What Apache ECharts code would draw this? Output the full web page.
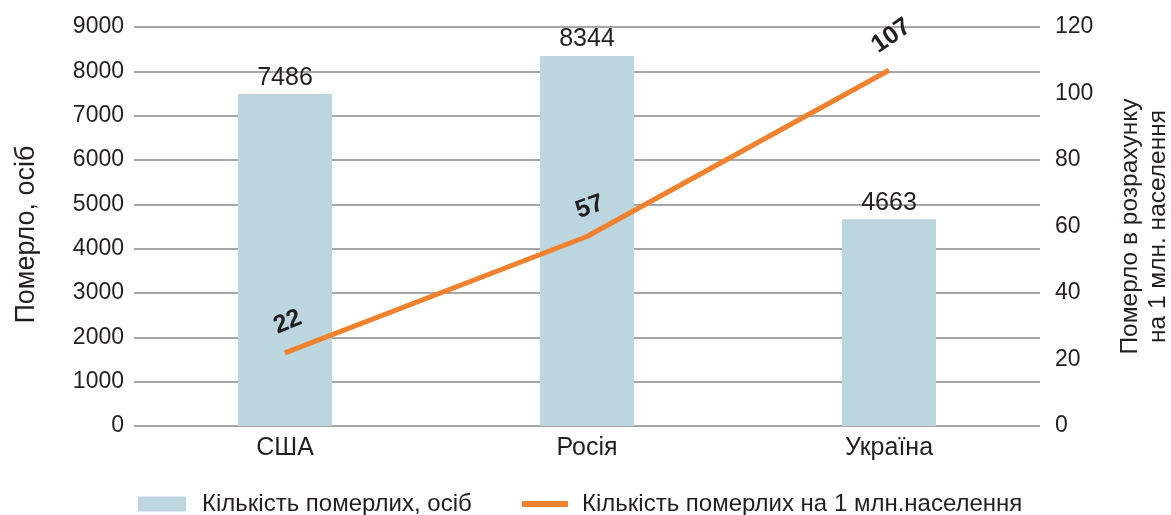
<!DOCTYPE html>
<html><head><meta charset="utf-8">
<script src="https://cdn.jsdelivr.net/npm/echarts@6/dist/echarts.min.js"></script>
<style>html,body{margin:0;padding:0;background:#fff}#c{width:1171px;height:515px}</style>
</head><body><div id="c"></div>
<script>
const categories = ['США', 'Росія', 'Україна'];
const deaths = [7486, 8344, 4663];
const deathsPerMillion = [22, 57, 107];
const seriesNames = ['Кількість померлих, осіб', 'Кількість померлих на 1 млн.населення'];
const leftAxisName = 'Померло, осіб';
const rightAxisName = 'Померло в розрахунку\nна 1 млн. населення';

// label styling (not data)
const lineLabelRotate = [22, 20, 35];
const lineLabelDistance = [29, 28, 32];

const font = 'Liberation Sans, Arial, sans-serif';
const txt = '#231f20';
const chart = echarts.init(document.getElementById('c'));
chart.setOption({
  animation: false,
  textStyle: { fontFamily: font },
  grid: { left: 134, right: 131, top: 27, bottom: 89, outerBoundsMode: 'none', containLabel: false },
  legend: [
    {
      top: 487, left: 133, itemWidth: 48, itemHeight: 15,
      textStyle: { fontSize: 24, color: txt, fontFamily: font, padding: [0, 0, 0, 11] },
      data: [{ name: seriesNames[0], icon: 'rect' }]
    },
    {
      top: 487, left: 517, itemWidth: 46, itemHeight: 6,
      textStyle: { fontSize: 24, color: txt, fontFamily: font, padding: [0, 0, 0, 9] },
      data: [{ name: seriesNames[1], icon: 'rect', itemStyle: { color: '#f0812f', opacity: 1 } }]
    }
  ],
  xAxis: {
    type: 'category', data: categories,
    axisLine: { show: false }, axisTick: { show: false },
    axisLabel: { fontSize: 25, color: txt, margin: 10 }
  },
  yAxis: [
    {
      type: 'value', min: 0, max: 9000, interval: 1000,
      name: leftAxisName, nameLocation: 'middle', nameGap: 94,
      nameTextStyle: { fontSize: 27, color: txt, padding: [0, 16, 0, 0] },
      axisLabel: { fontSize: 23, color: txt, margin: 10, formatter: v => String(v) },
      splitLine: { lineStyle: { color: '#a6a6a6', width: 2 } },
      axisLine: { show: false }, axisTick: { show: false }
    },
    {
      type: 'value', min: 0, max: 120, interval: 20,
      name: rightAxisName, nameLocation: 'middle', nameGap: 76,
      nameTextStyle: { fontSize: 24.5, color: txt, lineHeight: 28 },
      axisLabel: { fontSize: 23, color: txt, margin: 15, formatter: v => String(v) },
      splitLine: { show: false }, axisLine: { show: false }, axisTick: { show: false }
    }
  ],
  series: [
    {
      name: seriesNames[0], type: 'bar', data: deaths, barWidth: 94,
      itemStyle: { color: '#bcd6e0' },
      label: { show: true, position: 'top', distance: 4, fontSize: 25, color: txt }
    },
    {
      name: seriesNames[1], type: 'line', yAxisIndex: 1,
      data: deathsPerMillion.map((v, i) => ({
        value: v,
        label: { rotate: lineLabelRotate[i], distance: lineLabelDistance[i] }
      })),
      symbol: 'circle', symbolSize: 1, showSymbol: true,
      lineStyle: { color: '#f0812f', width: 5 },
      itemStyle: { color: '#f0812f', opacity: 0 },
      label: { show: true, position: 'top', verticalAlign: 'middle', align: 'center',
        offset: [3, 0], fontSize: 25, fontWeight: 'bold', color: txt, opacity: 1 }
    }
  ]
});
</script></body></html>
